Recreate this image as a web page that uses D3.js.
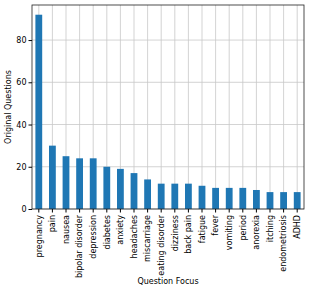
<!DOCTYPE html>
<html>
<head>
<meta charset="utf-8">
<script src="https://cdn.jsdelivr.net/npm/d3@7"></script>
<style>
 body { margin:0; background:#fff; }
 text { font-family:"DejaVu Sans", sans-serif; fill:#000; }
</style>
</head>
<body>
<svg id="chart" width="310" height="291"></svg>
<script>
const topics = ["pregnancy","pain","nausea","bipolar disorder","depression","diabetes","anxiety","headaches","miscarriage","eating disorder","dizziness","back pain","fatigue","fever","vomiting","period","anorexia","itching","endometriosis","ADHD"];
const counts = [92,30,25,24,24,20,19,17,14,12,12,12,11,10,10,10,9,8,8,8];
const yTicks = [0,20,40,60,80];

const margin = {top: 5, right: 6, bottom: 82, left: 32},
    width = 310 - margin.left - margin.right,
    height = 291 - margin.top - margin.bottom;

const svg = d3.select('#chart')
  .append('g')
  .attr('transform', `translate(${margin.left}, ${margin.top})`);

const x = d3.scaleBand().domain(topics).range([0, width]).paddingInner(0.5).paddingOuter(0.25);
const y = d3.scaleLinear().domain([0, d3.max(counts) * 1.05]).range([height, 0]);

// grid
svg.selectAll('.vgrid').data(topics).enter().append('line')
  .attr('x1', d => x(d) + x.bandwidth()/2).attr('x2', d => x(d) + x.bandwidth()/2)
  .attr('y1', 0).attr('y2', height)
  .attr('stroke', '#c8c8c8').attr('stroke-width', 0.8);
svg.selectAll('.hgrid').data(yTicks).enter().append('line')
  .attr('x1', 0).attr('x2', width)
  .attr('y1', d => y(d)).attr('y2', d => y(d))
  .attr('stroke', '#c8c8c8').attr('stroke-width', 0.8);

svg.selectAll('.bar').data(counts).enter().append('rect')
  .attr('x', (d, i) => x(topics[i]))
  .attr('width', x.bandwidth())
  .attr('y', d => y(d))
  .attr('height', d => height - y(d))
  .attr('fill', '#1f77b4');

// frame
svg.append('rect').attr('width', width).attr('height', height)
  .attr('fill', 'none').attr('stroke', '#222').attr('stroke-width', 0.8);

const yAxis = svg.append('g').call(d3.axisLeft(y).tickValues(yTicks).tickSize(3.5).tickPadding(2));
yAxis.select('.domain').remove();
yAxis.selectAll('text').style('font-size', '8px');

const xAxis = svg.append('g').attr('transform', `translate(0, ${height})`)
  .call(d3.axisBottom(x).tickSize(3.5).tickPadding(2));
xAxis.select('.domain').remove();
xAxis.selectAll('text')
  .style('font-size', '8px')
  .attr('text-anchor', 'end')
  .attr('transform', 'rotate(-90)')
  .attr('x', -6).attr('y', 0).attr('dy', '0.35em');

svg.append('text')
  .attr('x', width/2).attr('y', height + 75)
  .attr('text-anchor', 'middle').style('font-size', '8px')
  .text('Question Focus');

svg.append('text')
  .attr('transform', `translate(-21, ${height/2}) rotate(-90)`)
  .attr('text-anchor', 'middle').style('font-size', '8px')
  .text('Original Questions');
</script>
</body>
</html>
